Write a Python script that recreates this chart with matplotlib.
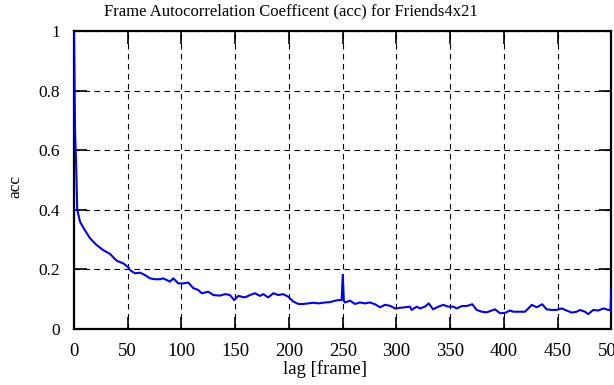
import matplotlib
matplotlib.use("Agg")
import matplotlib.pyplot as plt

plt.rcParams['font.family'] = ['Liberation Serif', 'DejaVu Serif']

lags = [0, 1, 2, 3, 4, 5.6, 10, 15, 21, 27, 33.5, 39.7, 46, 50.5, 52, 56.7, 61.4, 66, 70.7,
        75.3, 80, 83, 89.3, 92.4, 97, 101.7, 106.3, 111, 115.6, 118.8, 125, 129.6, 135.8,
        140.5, 145, 149, 152.8, 159, 163.7, 168.4, 173, 176, 180.7, 185.4, 190, 194.7, 199.4,
        204, 208.7, 213.3, 218, 222.6, 227.3, 233.5, 238, 242.8, 246, 249, 250, 251, 252,
        256.7, 261.4, 266, 270.7, 275.3, 280, 284.7, 289.3, 294, 298.6, 303.3, 308, 312.6,
        314, 318.8, 321.9, 326.5, 330, 334, 339, 343.5, 348, 352.8, 356, 360.7, 365.3, 370.5,
        374.6, 379.3, 384, 388.6, 391.6, 396.3, 401, 405.6, 408.7, 410.2, 415, 419.5, 422.6,
        425.8, 430.4, 435.6, 439.7, 444.4, 449, 453.7, 458.3, 463, 467.6, 470.7, 475.3, 478.4,
        483, 487.7, 492.4, 497, 499, 500]
acc = [1.0, 0.66, 0.55, 0.40, 0.385, 0.36, 0.332, 0.304, 0.282, 0.265, 0.252, 0.229, 0.22,
       0.207, 0.198, 0.187, 0.189, 0.181, 0.17, 0.167, 0.167, 0.17, 0.159, 0.17, 0.153, 0.153,
       0.156, 0.137, 0.131, 0.12, 0.125, 0.114, 0.112, 0.117, 0.114, 0.097, 0.111, 0.106,
       0.114, 0.12, 0.111, 0.117, 0.106, 0.12, 0.114, 0.117, 0.108, 0.092, 0.084, 0.084,
       0.086, 0.088, 0.086, 0.089, 0.09, 0.095, 0.097, 0.097, 0.181, 0.095, 0.089, 0.095,
       0.084, 0.089, 0.086, 0.089, 0.083, 0.073, 0.081, 0.078, 0.069, 0.071, 0.073, 0.075,
       0.064, 0.075, 0.069, 0.075, 0.086, 0.066, 0.075, 0.081, 0.075, 0.075, 0.069, 0.077,
       0.077, 0.083, 0.064, 0.058, 0.056, 0.062, 0.066, 0.053, 0.054, 0.062, 0.058, 0.058,
       0.058, 0.058, 0.069, 0.081, 0.073, 0.083, 0.066, 0.064, 0.064, 0.069, 0.062, 0.055,
       0.058, 0.064, 0.058, 0.05, 0.064, 0.062, 0.069, 0.064, 0.064, 0.137]

xticks = [0, 50, 100, 150, 200, 250, 300, 350, 400, 450, 500]
yticks = [0, 0.2, 0.4, 0.6, 0.8, 1]
ytick_labels = ['0', '0.2', '0.4', '0.6', '0.8', '1']

fig = plt.figure(figsize=(6.14, 3.85), dpi=100)
ax = fig.add_axes([74/614, 56/385, 537.5/614, 298/385])

ax.plot(lags, acc, color='#0000ff', linewidth=1.5, zorder=3)

ax.set_xlim(0, 500)
ax.set_ylim(0, 1)
ax.set_xticks(xticks)
ax.set_xticklabels([str(t) for t in xticks])
ax.set_yticks(yticks)
ax.set_yticklabels(ytick_labels)
ax.grid(True, color='black', linestyle=(0, (5, 4)), linewidth=0.8)
ax.tick_params(direction='in', length=9, width=1.2, top=True, right=True,
               colors='black')
ax.tick_params(axis='x', labelsize=13.5, pad=10)
ax.tick_params(axis='y', labelsize=12.5, pad=10)
for s in ax.spines.values():
    s.set_linewidth(1.6)

ax.set_title('Frame Autocorrelation Coefficent (acc) for Friends4x21', fontsize=12,
             x=(291 - 74) / 537.5, y=1.0, pad=11)
ax.set_xlabel('lag [frame]', fontsize=13.5, va='center')
ax.xaxis.set_label_coords((325 - 74) / 537.5, (329 - 369) / 298)
ax.set_ylabel('acc', fontsize=12.5, va='center')
ax.yaxis.set_label_coords((15 - 74) / 537.5, (329 - 187) / 298)

fig.savefig('out.png', dpi=100)
